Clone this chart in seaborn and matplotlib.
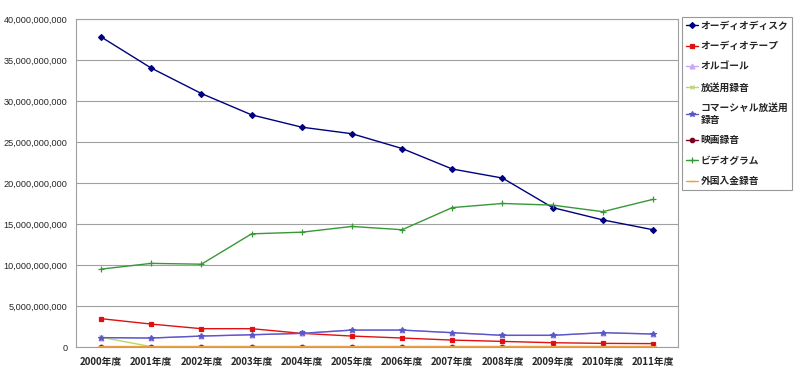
import numpy as np
import pandas as pd
import matplotlib
matplotlib.use("Agg")
import matplotlib.pyplot as plt
import seaborn as sns
from matplotlib.ticker import FuncFormatter, MultipleLocator

# データ（単位：10億円）
years = ["2000年度", "2001年度", "2002年度", "2003年度", "2004年度", "2005年度",
         "2006年度", "2007年度", "2008年度", "2009年度", "2010年度", "2011年度"]

audio_disc = [37.8, 34.0, 30.9, 28.3, 26.8, 26.0, 24.2, 21.7, 20.6, 17.0, 15.5, 14.3]
audio_tape = [3.46, 2.80, 2.24, 2.24, 1.67, 1.34, 1.10, 0.85, 0.69, 0.53, 0.45, 0.42]
orgel = [1.15, 1.10, 1.34, 1.50, 1.67, 2.07, 2.07, 1.75, 1.43, 1.43, 1.75, 1.59]
broadcast = [1.20, 0.05, 0.05, 0.05, 0.05, 0.05, 0.05, 0.05, 0.05, 0.05, 0.05, 0.05]
commercial = [1.15, 1.10, 1.34, 1.50, 1.67, 2.07, 2.07, 1.75, 1.43, 1.43, 1.75, 1.59]
movie = [0.05, 0.05, 0.05, 0.05, 0.05, 0.05, 0.05, 0.05, 0.05, 0.05, 0.05, 0.05]
videogram = [9.5, 10.2, 10.1, 13.8, 14.0, 14.7, 14.3, 17.0, 17.5, 17.3, 16.5, 18.0]
foreign = [0.08, 0.08, 0.08, 0.08, 0.08, 0.08, 0.08, 0.08, 0.08, 0.08, 0.08, 0.08]

series_names = ["オーディオディスク", "オーディオテープ", "オルゴール", "放送用録音",
                "コマーシャル放送用\n録音", "映画録音", "ビデオグラム", "外国入金録音"]
series_vals = [audio_disc, audio_tape, orgel, broadcast, commercial, movie, videogram, foreign]

colors = ["#000080", "#e01010", "#c8a8f0", "#b8d860", "#5858c8", "#800020", "#389838", "#f0a040"]
markers = ["D", "s", "^", "x", "*", "o", "+", "_"]
msizes = [3, 3.2, 3.5, 3.5, 4, 3.2, 4, 4]

sns.set_style("white")
plt.rcParams['font.family'] = ['Noto Sans CJK JP', 'DejaVu Sans']

fig = plt.figure(figsize=(8, 3.7), dpi=100)
ax = fig.add_axes([0.095, 0.062, 0.7525, 0.887])

# 系列ごとに描画（マーカーの種類が混在するため）
for name, vals, c, m, ms in zip(series_names, series_vals, colors, markers, msizes):
    d = pd.DataFrame({"year": range(len(vals)), "value": np.array(vals) * 1e9})
    sns.lineplot(data=d, x="year", y="value", color=c, marker=m,
                 markersize=ms, linewidth=1, markeredgewidth=0.9,
                 markeredgecolor=c, label=name, ax=ax)

ax.set_xlim(-0.5, 11.5)
ax.set_ylim(0, 40e9)
ax.yaxis.set_major_locator(MultipleLocator(5e9))
ax.yaxis.set_major_formatter(FuncFormatter(lambda v, p: f"{int(v):,}"))
ax.set_xticks(range(12))
ax.set_xticklabels(years, fontweight="bold", fontsize=7)
ax.set_xticks(np.arange(-0.5, 12, 1), minor=True)
ax.tick_params(axis="x", which="major", length=0, pad=7)
ax.tick_params(axis="x", which="minor", length=3, color="#888888", direction="in")
ax.tick_params(axis="y", labelsize=6.6, length=0, pad=6)
for lbl in ax.get_yticklabels():
    lbl.set_family(['Liberation Sans', 'DejaVu Sans'])

ax.grid(axis="y", color="#a0a0a0", linewidth=0.8)
for s in ax.spines.values():
    s.set_color("#a0a0a0")
    s.set_linewidth(0.8)
ax.set_xlabel("")
ax.set_ylabel("")

leg = ax.legend(loc="upper left", bbox_to_anchor=(682 / 800, 1 - 17 / 370),
                bbox_transform=fig.transFigure, frameon=True,
                fancybox=False, edgecolor="#808080",
                prop={"weight": "bold", "size": 7, "family": ['Noto Sans CJK JP', 'DejaVu Sans']},
                handlelength=1.2, labelspacing=1.08, borderpad=0.4, handletextpad=0.3,
                borderaxespad=0)
leg.get_frame().set_linewidth(0.8)

fig.savefig("out.png", dpi=100)
